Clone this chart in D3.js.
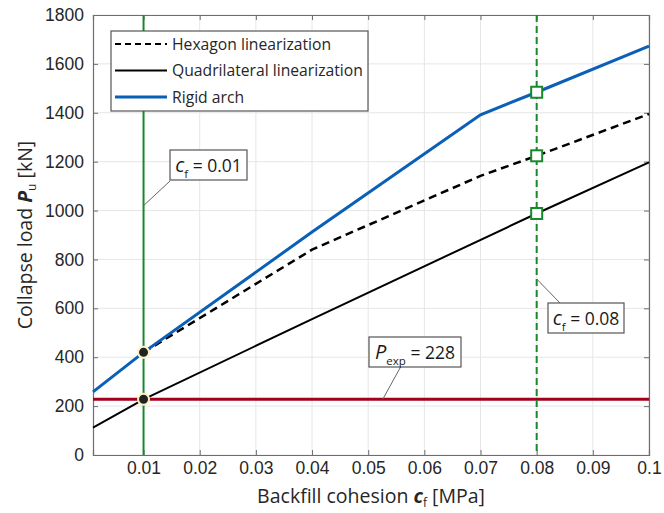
<!DOCTYPE html>
<html>
<head>
<meta charset="utf-8">
<script src="https://cdn.jsdelivr.net/npm/d3@7"></script>
<style>
	body { margin: 0; background: #fff; }
	svg { font-family: 'Open Sans', 'Noto Sans', sans-serif; }
	.grid line { stroke: #e6e6e6; stroke-width: 1; }
	.tick-label { font-size: 17.5px; fill: #262626; }
	.axis-title { font-size: 19.5px; fill: #262626; }
	.legend-text { font-size: 15.7px; fill: #262626; }
	.note { font-size: 17.5px; fill: #1a1a1a; }
</style>
</head>
<body>
<svg id="chart" width="664" height="513"></svg>
<script>
const xTicks = [0.01, 0.02, 0.03, 0.04, 0.05, 0.06, 0.07, 0.08, 0.09, 0.1]
const yTicks = [0, 200, 400, 600, 800, 1000, 1200, 1400, 1600, 1800]

// rigid arch (blue)
const rigidX = [0.001, 0.01, 0.04, 0.07, 0.08, 0.1]
const rigidY = [258, 420, 912, 1392, 1484, 1673]

// hexagon linearization (dashed)
const hexX = [0.01, 0.04, 0.07, 0.08, 0.1]
const hexY = [420, 840, 1142, 1224, 1395]

// quadrilateral linearization (solid black)
const quadX = [0.001, 0.01, 0.04, 0.08, 0.1]
const quadY = [112, 228, 556, 988, 1197]

const pExp = 228
const cfLow = 0.01
const cfHigh = 0.08

const dotPoints = [[0.01, 420], [0.01, 228]]
const squarePoints = [[0.08, 1484], [0.08, 1224], [0.08, 988]]

const width = 664, height = 513
const margin = {left: 93, right: 15, top: 15, bottom: 58}

const svg = d3.select('#chart')

const x = d3.scaleLinear()
	.domain([0.001, 0.1])
	.range([margin.left, width - margin.right])

const y = d3.scaleLinear()
	.domain([0, 1800])
	.range([height - margin.bottom, margin.top])

const x0 = margin.left, x1 = width - margin.right
const y0 = height - margin.bottom, y1 = margin.top

// gridlines
const grid = svg.append('g').attr('class', 'grid')
grid.selectAll('.gx').data(xTicks).enter().append('line')
	.attr('x1', d => x(d)).attr('x2', d => x(d))
	.attr('y1', y1).attr('y2', y0)
grid.selectAll('.gy').data(yTicks).enter().append('line')
	.attr('x1', x0).attr('x2', x1)
	.attr('y1', d => y(d)).attr('y2', d => y(d))

// axes with inward ticks
const axes = svg.append('g')
axes.append('g')
	.attr('transform', `translate(0,${y0})`)
	.call(d3.axisBottom(x).tickValues(xTicks).tickSize(-5).tickPadding(7).tickFormat(d => String(+d.toFixed(2))))
axes.append('g')
	.attr('transform', `translate(0,${y1})`)
	.call(d3.axisTop(x).tickValues(xTicks).tickSize(-5).tickFormat(''))
axes.append('g')
	.attr('transform', `translate(${x0},0)`)
	.call(d3.axisLeft(y).tickValues(yTicks).tickSize(-5).tickPadding(9).tickFormat(d3.format('d')))
axes.append('g')
	.attr('transform', `translate(${x1},0)`)
	.call(d3.axisRight(y).tickValues(yTicks).tickSize(-5).tickFormat(''))

axes.selectAll('.domain').attr('stroke', '#6e6e6e').attr('stroke-width', 1.2)
axes.selectAll('.tick line').attr('stroke', '#6e6e6e')
axes.selectAll('.tick text').attr('class', 'tick-label').attr('font-family', null).attr('font-size', null)

// axis titles
const xTitle = svg.append('text')
	.attr('class', 'axis-title')
	.attr('x', (x0 + x1) / 2)
	.attr('y', 503)
	.attr('text-anchor', 'middle')
xTitle.append('tspan').text('Backfill cohesion ')
xTitle.append('tspan').attr('font-weight', 'bold').attr('font-style', 'italic').text('c')
xTitle.append('tspan').attr('font-size', '12px').attr('dy', 4).text('f')
xTitle.append('tspan').attr('dy', -4).text(' [MPa]')

const yTitle = svg.append('text')
	.attr('class', 'axis-title')
	.attr('transform', `translate(32,${(y0 + y1) / 2}) rotate(-90)`)
	.attr('text-anchor', 'middle')
yTitle.append('tspan').text('Collapse load ')
yTitle.append('tspan').attr('font-weight', 'bold').attr('font-style', 'italic').text('P')
yTitle.append('tspan').attr('font-size', '12px').attr('dy', 4).text('u')
yTitle.append('tspan').attr('dy', -4).text(' [kN]')

const plotArea = svg.append('g')

// reference lines
plotArea.append('line')
	.attr('x1', x0).attr('x2', x1)
	.attr('y1', y(pExp)).attr('y2', y(pExp))
	.attr('stroke', '#a3001e').attr('stroke-width', 3)

plotArea.append('line')
	.attr('x1', x(cfLow)).attr('x2', x(cfLow))
	.attr('y1', y1).attr('y2', y0)
	.attr('stroke', '#17882c').attr('stroke-width', 2)

plotArea.append('line')
	.attr('x1', x(cfHigh)).attr('x2', x(cfHigh))
	.attr('y1', y1).attr('y2', y0)
	.attr('stroke', '#17882c').attr('stroke-width', 2)
	.attr('stroke-dasharray', '7,4')

// curves
const line = d3.line().x(d => x(d[0])).y(d => y(d[1]))
const zip = (a, b) => a.map((v, i) => [v, b[i]])

plotArea.append('path')
	.attr('d', line(zip(quadX, quadY)))
	.attr('fill', 'none').attr('stroke', '#000').attr('stroke-width', 2)

plotArea.append('path')
	.attr('d', line(zip(hexX, hexY)))
	.attr('fill', 'none').attr('stroke', '#000').attr('stroke-width', 2.5)
	.attr('stroke-dasharray', '8,5')

plotArea.append('path')
	.attr('d', line(zip(rigidX, rigidY)))
	.attr('fill', 'none').attr('stroke', '#0a5fb6').attr('stroke-width', 3)

// markers
plotArea.selectAll('.dot').data(dotPoints).enter().append('circle')
	.attr('cx', d => x(d[0])).attr('cy', d => y(d[1]))
	.attr('r', 5.5)
	.attr('fill', '#222').attr('stroke', '#fbf3c4').attr('stroke-width', 2)

const sq = 11
plotArea.selectAll('.sq').data(squarePoints).enter().append('rect')
	.attr('x', d => x(d[0]) - sq / 2).attr('y', d => y(d[1]) - sq / 2)
	.attr('width', sq).attr('height', sq)
	.attr('fill', '#fff').attr('stroke', '#17882c').attr('stroke-width', 2)

// annotation boxes
const notes = [
	{ax: 0.01, ay: 1020, bx: 170, by: 150, w: 77, sym: 'c', sub: 'f', rest: ' = 0.01', lx: 170, ly: 181},
	{ax: 0.0526, ay: 228, bx: 369, by: 337, w: 92, sym: 'P', sub: 'exp', rest: ' = 228', lx: 400, ly: 368},
	{ax: 0.08, ay: 720, bx: 548, by: 303, w: 76, sym: 'c', sub: 'f', rest: ' = 0.08', lx: 560, ly: 303}
]

notes.forEach(n => {
	plotArea.append('line')
		.attr('x1', x(n.ax)).attr('y1', y(n.ay))
		.attr('x2', n.lx).attr('y2', n.ly)
		.attr('stroke', '#666').attr('stroke-width', 1)
	plotArea.append('rect')
		.attr('x', n.bx).attr('y', n.by)
		.attr('width', n.w).attr('height', 30)
		.attr('fill', '#fff').attr('stroke', '#555').attr('stroke-width', 1.2)
	const t = plotArea.append('text')
		.attr('class', 'note')
		.attr('x', n.bx + n.w / 2).attr('y', n.by + 22)
		.attr('text-anchor', 'middle')
	t.append('tspan').attr('font-style', 'italic').attr('font-size', '20px').text(n.sym)
	t.append('tspan').attr('font-size', '11.5px').attr('dy', 6).text(n.sub)
	t.append('tspan').attr('dy', -6).text(n.rest)
})

// legend
const legendItems = [
	{label: 'Hexagon linearization', color: '#000', dash: '6,4', w: 2},
	{label: 'Quadrilateral linearization', color: '#000', dash: null, w: 2},
	{label: 'Rigid arch', color: '#0a5fb6', dash: null, w: 3}
]

const legend = svg.append('g').attr('transform', 'translate(111,31)')
legend.append('rect')
	.attr('width', 257).attr('height', 80)
	.attr('fill', '#fff').attr('stroke', '#555').attr('stroke-width', 1.2)

const li = legend.selectAll('.li').data(legendItems).enter().append('g')
	.attr('transform', (d, i) => `translate(0,${13 + i * 26.5})`)
li.append('line')
	.attr('x1', 4).attr('x2', 56)
	.attr('stroke', d => d.color).attr('stroke-width', d => d.w)
	.attr('stroke-dasharray', d => d.dash)
li.append('text')
	.attr('class', 'legend-text')
	.attr('x', 61).attr('y', 5.5)
	.text(d => d.label)
</script>
</body>
</html>
